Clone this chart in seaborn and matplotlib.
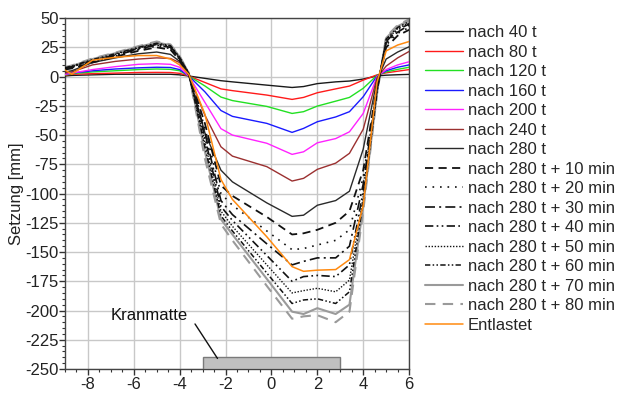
import matplotlib
matplotlib.use("Agg")
import matplotlib.pyplot as plt
import seaborn as sns
import numpy as np
from matplotlib.patches import Rectangle
from matplotlib.ticker import MultipleLocator

# ---------------- data ----------------
X = [-9.0, -8.7, -7.8, -6.8, -5.8, -5.0, -4.4, -4.0, -3.6, -2.9, -2.2, -1.7, -0.2,
     0.9, 1.4, 2.0, 2.8, 3.4, 4.0, 4.6, 5.0, 5.5, 6.0]

t40 = [0.5, 1.0, 1.5, 2.0, 2.0, 2.0, 2.0, 1.5, 0.5, -1.5, -3.5, -4.5, -7.3, -9.3, -8.5, -6.0, -4.5, -3.8, -2.1, 0.6, 1.2, 1.6, 1.9]
t80 = [1.3, 2.0, 2.5, 3.0, 3.5, 3.6, 3.5, 2.8, 0.5, -5.0, -10.5, -12.0, -15.8, -19.5, -17.8, -13.8, -10.5, -8.1, -3.0, 1.5, 3.2, 4.6, 6.0]
t120 = [1.5, 2.5, 4.0, 5.0, 6.0, 6.5, 6.2, 5.0, 0.5, -8.0, -17.5, -20.5, -25.5, -31.5, -30.0, -25.2, -21.0, -17.8, -10.0, 1.0, 4.0, 6.2, 8.0]
t160 = [2.0, 3.0, 5.0, 6.5, 7.5, 8.0, 7.8, 6.0, 0.5, -13.0, -29.0, -34.0, -40.0, -47.7, -44.3, -38.6, -34.5, -30.0, -17.2, 0.5, 5.0, 8.0, 10.0]
t200 = [2.0, 3.0, 6.0, 8.5, 10.5, 11.0, 10.5, 8.0, 0.5, -22.0, -44.5, -50.0, -57.0, -66.5, -64.3, -56.6, -53.0, -47.2, -31.5, 0.0, 6.0, 10.0, 12.7]
t240 = [3.0, 4.0, 10.0, 13.0, 15.0, 16.0, 15.5, 12.0, 1.0, -33.0, -60.0, -68.0, -77.0, -89.3, -87.0, -79.3, -74.0, -65.6, -45.0, -1.0, 9.0, 16.0, 21.5]
t280 = [4.0, 5.0, 12.0, 16.0, 19.5, 21.0, 19.0, 13.0, 2.0, -48.0, -80.0, -90.0, -108.0, -119.5, -118.5, -110.0, -106.0, -98.0, -62.0, -3.0, 15.0, 21.0, 25.5]
m10 = [6.0, 7.0, 12.0, 17.0, 22.0, 25.0, 23.0, 14.0, 2.0, -40.0, -93.0, -102.0, -120.0, -135.0, -134.0, -131.0, -125.0, -115.0, -80.0, -8.0, 25.0, 35.0, 40.0]
m20 = [6.5, 7.5, 12.5, 17.5, 23.0, 26.0, 24.0, 14.5, 2.0, -44.0, -100.0, -110.0, -132.0, -148.0, -147.0, -144.0, -140.0, -131.0, -86.0, -9.0, 27.0, 37.0, 42.0]
m30 = [7.0, 8.0, 13.0, 18.0, 23.5, 27.0, 25.0, 15.0, 2.0, -48.0, -106.0, -118.0, -143.0, -161.0, -158.0, -155.0, -155.0, -145.0, -92.0, -10.0, 29.0, 38.0, 44.0]
m40 = [7.0, 8.5, 13.5, 18.5, 24.0, 27.5, 25.5, 15.5, 2.5, -52.0, -111.0, -123.0, -153.0, -175.0, -171.0, -170.0, -171.0, -161.0, -98.0, -11.0, 30.0, 40.0, 45.0]
m50 = [7.5, 8.5, 14.0, 19.0, 24.5, 28.0, 26.0, 16.0, 2.5, -56.0, -115.0, -128.0, -161.0, -185.0, -183.0, -181.0, -184.0, -174.0, -103.0, -12.0, 31.0, 41.0, 46.0]
m60 = [7.5, 9.0, 14.5, 19.5, 25.0, 28.5, 26.5, 16.5, 2.5, -60.0, -119.0, -132.0, -168.0, -194.0, -191.0, -190.0, -194.0, -184.0, -107.0, -13.0, 32.0, 42.0, 47.0]
m70 = [8.0, 9.0, 15.0, 20.0, 25.5, 29.0, 27.0, 17.0, 3.0, -64.0, -122.0, -135.0, -173.0, -201.0, -203.0, -198.0, -203.0, -195.0, -111.0, -14.0, 33.0, 43.0, 48.0]
m80 = [8.0, 9.5, 15.5, 20.5, 26.0, 30.0, 27.5, 17.5, 3.0, -70.0, -126.0, -140.0, -179.0, -207.0, -205.0, -204.0, -210.0, -201.0, -115.0, -15.0, 34.0, 44.0, 49.0]
ent = [5.6, 2.1, 14.0, 16.5, 18.0, 18.0, 15.0, 10.0, 2.0, -32.0, -88.0, -105.0, -137.0, -162.5, -166.5, -165.5, -165.0, -156.5, -110.0, -5.0, 22.0, 27.0, 30.0]

labels = ["nach 40 t", "nach 80 t", "nach 120 t", "nach 160 t", "nach 200 t",
          "nach 240 t", "nach 280 t", "nach 280 t + 10 min", "nach 280 t + 20 min",
          "nach 280 t + 30 min", "nach 280 t + 40 min", "nach 280 t + 50 min",
          "nach 280 t + 60 min", "nach 280 t + 70 min", "nach 280 t + 80 min", "Entlastet"]
series = [t40, t80, t120, t160, t200, t240, t280, m10, m20, m30, m40, m50, m60, m70, m80, ent]

mat_x = [-3.0, 3.0]
mat_y = [-250.0, -240.0]

# ---------------- style ----------------
colors = ["#1a1a1a", "#ff1a1a", "#22e022", "#1a1aff", "#ff22ff", "#9b3030", "#2a2a2a",
          "#111111", "#111111", "#111111", "#111111", "#111111", "#111111",
          "#9a9a9a", "#9a9a9a", "#ff8a10"]
styles = ["-", "-", "-", "-", "-", "-", "-",
          (0, (4.5, 3.0)),
          (0, (1.0, 3.5)),
          (0, (6.0, 2.5, 1.2, 2.5)),
          (0, (5.0, 2.0, 1.0, 2.0, 1.0, 2.0)),
          (0, (1.0, 1.2)),
          (0, (3.5, 1.5, 1.0, 1.5, 1.0, 1.5)),
          "-",
          (0, (5.0, 3.5)),
          "-"]
widths = [1.0, 1.0, 1.0, 1.0, 1.0, 1.0, 1.0, 1.3, 1.2, 1.2, 1.2, 1.0, 1.1, 1.5, 1.5, 1.1]
zorders = [3, 3, 3, 3, 3, 3, 3, 3, 3, 3, 3, 3, 3, 2.5, 2.5, 4]

sns.set_theme(style="white")
plt.rcParams["font.family"] = ["Liberation Sans", "DejaVu Sans"]
plt.rcParams["axes.unicode_minus"] = False

fig = plt.figure(figsize=(6.18, 3.94), dpi=100)
ax = fig.add_axes([0.105, 0.0635, 0.557, 0.8905])

for lab, vals, c, ls, lw, z in zip(labels, series, colors, styles, widths, zorders):
    sns.lineplot(x=X, y=vals, ax=ax, color=c, linestyle=ls, linewidth=lw,
                 label=lab, sort=False, estimator=None, zorder=z)

ax.add_patch(Rectangle((mat_x[0], mat_y[0]), mat_x[1] - mat_x[0], mat_y[1] - mat_y[0],
                       facecolor="#c0c0c0", edgecolor="#7a7a7a", linewidth=1.0, zorder=3))
ax.text(-5.33, -204, "Kranmatte", ha="center", va="center", fontsize=12, color="#111111")
ax.annotate("", xy=(-2.35, -241), xytext=(-3.33, -211.5),
            arrowprops=dict(arrowstyle="-", color="#111111", lw=1.0, shrinkA=0, shrinkB=0))

ax.set_xlim(-9, 6)
ax.set_ylim(-250, 50)
ax.set_xticks(np.arange(-8, 7, 2))
ax.set_yticks(np.arange(-250, 51, 25))
ax.xaxis.set_minor_locator(MultipleLocator(0.5))
ax.yaxis.set_minor_locator(MultipleLocator(5))
ax.grid(True, which="major", color="#c8c8c8", linewidth=1.0, zorder=0)
ax.set_axisbelow(True)
ax.tick_params(which="major", direction="out", length=4, width=1.0, colors="#333333",
               labelsize=12, labelcolor="#222222", left=True, bottom=True)
ax.tick_params(axis="x", which="major", pad=2)
ax.tick_params(axis="y", which="major", pad=0.5)
ax.tick_params(which="minor", direction="out", length=2.5, width=0.8, colors="#333333",
               left=True, bottom=True)
for sp in ax.spines.values():
    sp.set_color("#444444")
    sp.set_linewidth(1.0)
ax.set_xlabel("")
ax.set_ylabel("Setzung [mm]", fontsize=12, color="#222222", labelpad=1)

ax.legend(loc="upper left", bbox_to_anchor=(0.688, 0.936), bbox_transform=fig.transFigure,
          frameon=False, fontsize=12, handlelength=2.25, handletextpad=0.3,
          labelspacing=0.27, borderpad=0, borderaxespad=0)

fig.savefig("out.png", dpi=100)
